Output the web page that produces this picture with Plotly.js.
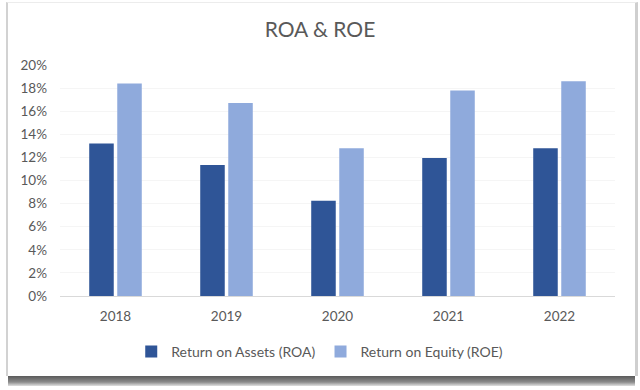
<!DOCTYPE html>
<html>
<head>
<meta charset="utf-8">
<script src="https://cdn.plot.ly/plotly-3.0.1.min.js"></script>
<style>
  html, body { margin:0; padding:0; background:#ffffff; }
  #wrap { position:relative; width:640px; height:390px; overflow:hidden; background:#ffffff; }
  #frame { position:absolute; left:6px; top:2px; width:627px; height:373px;
           border-left:2px solid #d2d2d2; border-right:3px solid #cfcfcf; border-top:1px solid #ececec; }
  #shadow { position:absolute; left:8px; top:376px; width:627px; height:10px;
            background:linear-gradient(#5a5a5a, #8a8a8a 60%, #e0e0e0); }
  #chart { position:absolute; left:0; top:0; width:640px; height:390px; }
</style>
</head>
<body>
<div id="wrap">
  <div id="frame"></div>
  <div id="shadow"></div>
  <div id="chart"></div>
</div>
<script>
const years = ['2018', '2019', '2020', '2021', '2022'];
const roa = [13.2, 11.35, 8.25, 11.95, 12.8];
const roe = [18.4, 16.7, 12.8, 17.8, 18.6];
const seriesNames = ['Return on Assets (ROA)', 'Return on Equity (ROE)'];

const fontFam = 'Lato, "Open Sans", "Liberation Sans", sans-serif';

const data = [
  { type:'bar', x:years, y:roa, name:seriesNames[0], marker:{color:'#2F5597'}, hoverinfo:'skip' },
  { type:'bar', x:years, y:roe, name:seriesNames[1], marker:{color:'#8FAADC'}, hoverinfo:'skip' }
];

const layout = {
  width:640, height:390,
  paper_bgcolor:'rgba(0,0,0,0)', plot_bgcolor:'rgba(0,0,0,0)',
  margin:{l:60, r:25, t:65, b:94},
  barmode:'group', bargap:0.495, bargroupgap:0.125,
  title:{text:'ROA &amp; ROE', x:0.5, xanchor:'center', y:0.925, yanchor:'middle',
         font:{family:fontFam, size:21, color:'#595959'}},
  font:{family:fontFam, size:13, color:'#595959'},
  xaxis:{ showline:true, linecolor:'#d9d9d9', linewidth:1, ticks:'', showgrid:false,
          ticklabelstandoff:8, tickfont:{size:13.5, color:'#595959'} },
  yaxis:{ range:[0,20], dtick:2, ticksuffix:'%', showgrid:true, gridcolor:'#f5f5f5',
          zeroline:false, showline:false, ticks:'', ticklabelstandoff:12,
          tickfont:{size:13.5, color:'#595959'} },
  legend:{ orientation:'h', x:0.468, xanchor:'center', y:-0.242, yanchor:'middle',
           font:{size:14, color:'#595959'}, itemwidth:30, traceorder:'normal' },
  showlegend:true
};

Plotly.newPlot('chart', data, layout, {staticPlot:true, displayModeBar:false});
</script>
</body>
</html>
